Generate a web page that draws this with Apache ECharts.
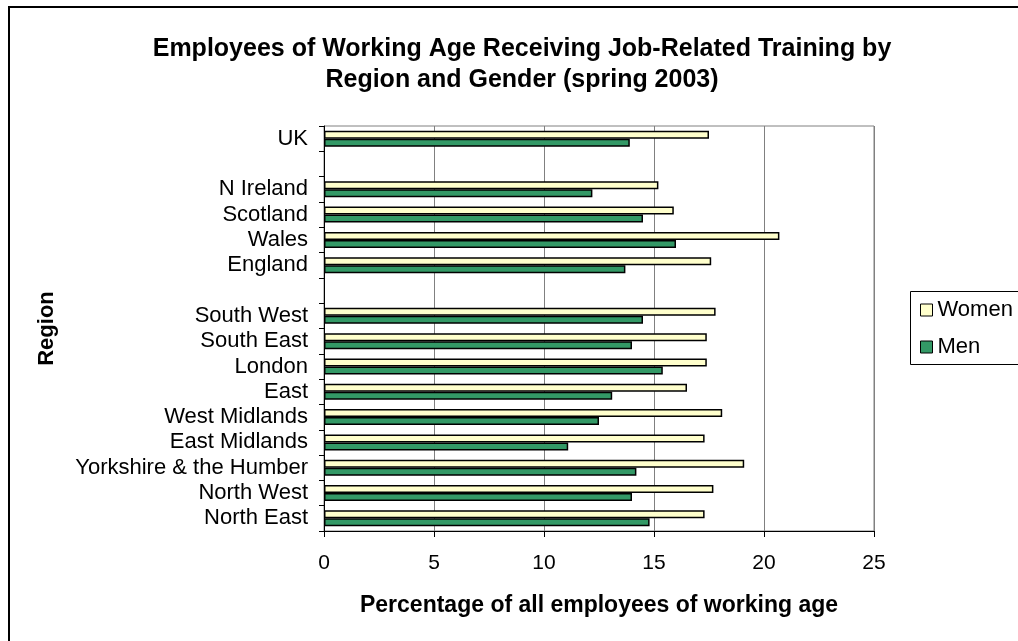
<!DOCTYPE html>
<html>
<head>
<meta charset="utf-8">
<script src="https://cdn.jsdelivr.net/npm/echarts@6/dist/echarts.min.js"></script>
<style>
  html, body { margin: 0; padding: 0; background: #ffffff; }
  #chart { width: 1018px; height: 641px; }
</style>
</head>
<body>
<div id="chart"></div>
<script>
// Regions, listed bottom-to-top as they appear on the vertical axis ('' = spacer rows)
const regions = [
  'North East', 'North West', 'Yorkshire & the Humber', 'East Midlands',
  'West Midlands', 'East', 'London', 'South East', 'South West', '',
  'England', 'Wales', 'Scotland', 'N Ireland', '', 'UK'
];

// Percentage of employees receiving job-related training
const women = [17.3, 17.7, 19.1, 17.3, 18.1, 16.5, 17.4, 17.4, 17.8, null,
               17.6, 20.7, 15.9, 15.2, null, 17.5];
const men   = [14.8, 14.0, 14.2, 11.1, 12.5, 13.1, 15.4, 14.0, 14.5, null,
               13.7, 16.0, 14.5, 12.2, null, 13.9];

const xTicks = { min: 0, max: 25, interval: 5 };

const FONT = 'Liberation Sans, Arial, sans-serif';

const chart = echarts.init(document.getElementById('chart'), null, { renderer: 'canvas' });

chart.setOption({
  backgroundColor: '#ffffff',
  animation: false,
  title: {
    text: 'Employees of Working Age Receiving Job-Related Training by\nRegion and Gender (spring 2003)',
    left: 522,
    textAlign: 'center',
    top: 34,
    padding: 0,
    textStyle: {
      fontFamily: FONT,
      fontWeight: 'bold',
      fontSize: 25,
      lineHeight: 31,
      color: '#000000'
    }
  },
  graphic: [
    {
      type: 'rect',
      z: -10,
      shape: { x: 9, y: 7, width: 1040, height: 660 },
      style: { fill: 'none', stroke: '#000000', lineWidth: 2 }
    },
    {
      type: 'rect',
      z: -5,
      shape: { x: 910.5, y: 291.5, width: 140, height: 73 },
      style: { fill: '#ffffff', stroke: '#000000', lineWidth: 1 }
    }
  ],
  legend: {
    data: ['Women', 'Men'],
    orient: 'vertical',
    left: 920,
    top: 299,
    padding: 0,
    itemGap: 15,
    itemWidth: 12,
    itemHeight: 12,
    icon: 'rect',
    itemStyle: { borderColor: '#000000', borderWidth: 1 },
    textStyle: { fontFamily: FONT, fontSize: 22, color: '#000000' }
  },
  grid: {
    left: 324,
    right: 144,
    top: 126,
    bottom: 110,
    show: true,
    borderColor: '#808080',
    borderWidth: 1,
    backgroundColor: '#ffffff'
  },
  xAxis: {
    type: 'value',
    min: xTicks.min,
    max: xTicks.max,
    interval: xTicks.interval,
    name: 'Percentage of all employees of working age',
    nameLocation: 'middle',
    nameGap: 63,
    nameTextStyle: { fontFamily: FONT, fontWeight: 'bold', fontSize: 23, color: '#000000' },
    axisLine: { show: true, lineStyle: { color: '#000000', width: 1 } },
    axisTick: { show: true, length: 6, lineStyle: { color: '#000000' } },
    axisLabel: { margin: 22, fontFamily: FONT, fontSize: 21, color: '#000000' },
    splitLine: { show: true, lineStyle: { color: '#808080', width: 1 } }
  },
  yAxis: {
    type: 'category',
    data: regions,
    name: 'Region',
    nameLocation: 'middle',
    nameGap: 266,
    nameRotate: 90,
    nameTextStyle: { fontFamily: FONT, fontWeight: 'bold', fontSize: 22, color: '#000000' },
    axisLine: { show: true, lineStyle: { color: '#000000', width: 1 } },
    axisTick: { show: true, length: 5, interval: 0, lineStyle: { color: '#000000' } },
    axisLabel: {
      interval: 0,
      margin: 16,
      fontFamily: FONT,
      fontSize: 22,
      color: '#000000',
      padding: [0, 0, 6, 0]
    },
    splitLine: { show: false }
  },
  series: [
    {
      name: 'Women',
      type: 'bar',
      data: women,
      barWidth: 8,
      barGap: '0%',
      itemStyle: { color: '#FFFFCC', borderColor: '#000000', borderWidth: 1.5 }
    },
    {
      name: 'Men',
      type: 'bar',
      data: men,
      barWidth: 8,
      barGap: '0%',
      itemStyle: { color: '#339966', borderColor: '#000000', borderWidth: 1.5 }
    }
  ]
});
</script>
</body>
</html>
